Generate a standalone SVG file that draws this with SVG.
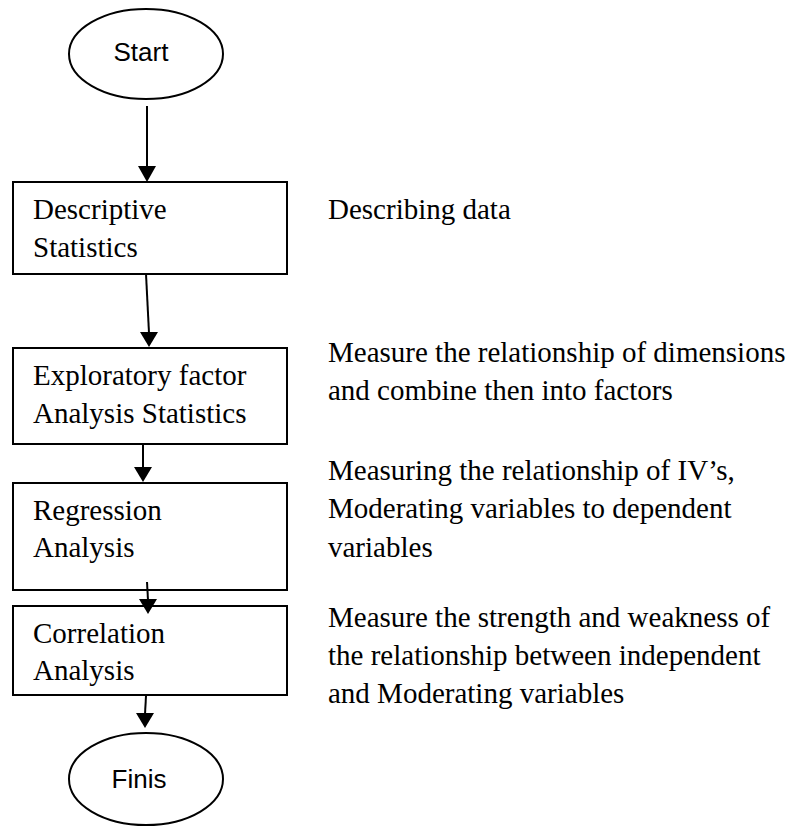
<svg xmlns="http://www.w3.org/2000/svg" width="794" height="827" viewBox="0 0 794 827">
<defs>
<style>
.shape{fill:#fff;stroke:#000;stroke-width:2}
.sans{font-family:"Liberation Sans",Arial,sans-serif;font-size:26px;fill:#000}
.serif{font-family:"Liberation Serif","Times New Roman",serif;font-size:29px;fill:#000}
.conn{stroke:#000;stroke-width:2;fill:none}
.head{fill:#000}
</style>
</defs>
<rect width="794" height="827" fill="#fff"/>
<g id="start">
<ellipse class="shape" cx="146" cy="54" rx="77" ry="45"/>
<text class="sans" x="141" y="61" text-anchor="middle">Start</text>
</g>
<g id="descriptive">
<rect class="shape" x="13" y="182" width="274" height="92"/>
<text class="serif" x="33" y="219">Descriptive</text>
<text class="serif" x="33" y="257">Statistics</text>
</g>
<g id="exploratory">
<rect class="shape" x="13" y="348" width="274" height="96"/>
<text class="serif" x="33" y="385">Exploratory factor</text>
<text class="serif" x="33" y="423">Analysis Statistics</text>
</g>
<g id="regression">
<rect class="shape" x="13" y="483" width="274" height="107"/>
<text class="serif" x="33" y="520">Regression</text>
<text class="serif" x="33" y="557">Analysis</text>
</g>
<g id="correlation">
<rect class="shape" x="13" y="606" width="274" height="89"/>
<text class="serif" x="33" y="643">Correlation</text>
<text class="serif" x="33" y="680">Analysis</text>
</g>
<g id="finis">
<ellipse class="shape" cx="146" cy="779" rx="77" ry="46"/>
<text class="sans" x="139" y="788" text-anchor="middle">Finis</text>
</g>
<g id="notes">
<text class="serif" x="328" y="219">Describing data</text>
<text class="serif" x="328" y="362">Measure the relationship of dimensions</text>
<text class="serif" x="328" y="400">and combine then into factors</text>
<text class="serif" x="328" y="480">Measuring the relationship of IV’s,</text>
<text class="serif" x="328" y="518">Moderating variables to dependent</text>
<text class="serif" x="328" y="557">variables</text>
<text class="serif" x="328" y="627">Measure the strength and weakness of</text>
<text class="serif" x="328" y="665">the relationship between independent</text>
<text class="serif" x="328" y="703">and Moderating variables</text>
</g>
<g id="connectors">
<line class="conn" x1="147" y1="106" x2="147" y2="167"/>
<path class="head" d="M138,166 L156,166 L147,182 Z"/>
<line class="conn" x1="146" y1="274" x2="149" y2="333"/>
<path class="head" d="M140,332 L158,332 L149,347 Z"/>
<line class="conn" x1="143" y1="445" x2="143" y2="468"/>
<path class="head" d="M134,467 L152,467 L143,482 Z"/>
<line class="conn" x1="147" y1="582" x2="148" y2="600"/>
<path class="head" d="M139,599 L157,599 L148,614 Z"/>
<line class="conn" x1="146" y1="696" x2="145" y2="714"/>
<path class="head" d="M136,713 L154,713 L145,728 Z"/>
</g>
</svg>
